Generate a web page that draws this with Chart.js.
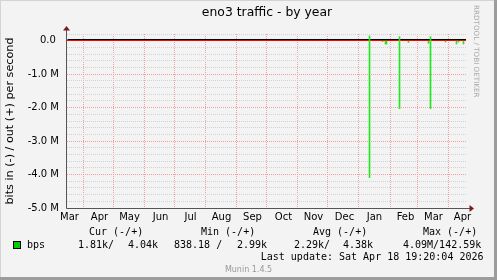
<!DOCTYPE html>
<html>
<head>
<meta charset="utf-8">
<title>eno3 traffic - by year</title>
<script src="https://cdn.jsdelivr.net/npm/chart.js@4/dist/chart.umd.min.js"></script>
<style>
  html, body { margin: 0; padding: 0; background: #f3f3f3; }
  #trafficChart { display: block; }
</style>
</head>
<body>
<canvas id="trafficChart" width="497" height="280"></canvas>
<script>
// x values are days counted from the left edge of the graph (mid March 2025)
const monthLabels = ["Mar", "Apr", "May", "Jun", "Jul", "Aug", "Sep", "Oct", "Nov", "Dec", "Jan", "Feb", "Mar", "Apr"];
const monthLabelDays = [2, 32, 62, 93, 123, 154, 185, 216, 246, 277, 307, 338, 366, 395];
const monthStartDays = [16, 46, 77, 107, 138, 169, 199, 230, 260, 291, 323, 350, 381];

// spikes, bits per second (in is drawn negative, out positive)
const spikeDays = [302, 315, 318, 319, 332, 341, 361, 363, 378, 389, 391, 396];
const bitsIn = [-4090000, -30000, -100000, -100000, -2030000, -50000, -80000, -2030000, -40000, -100000, -40000, -100000];
const bitsOut = [142590, 0, 0, 0, 120000, 0, 0, 120000, 0, 0, 0, 0];

// the thin black line sitting just above zero
const outLineDays = [0, 399];
const outLine = [36000, 36000];

const legendHead = ["Cur (-/+)", "Min (-/+)", "Avg (-/+)", "Max (-/+)"];
const legendRow = ["1.81k/", "4.04k", "838.18 /", "2.99k", "2.29k/", "4.38k", "4.09M/142.59k"];
const lastUpdate = "Last update: Sat Apr 18 19:20:04 2026";

const ctx = document.getElementById("trafficChart").getContext("2d");

const mono = "'DejaVu Sans Mono', monospace";
const sans = "'DejaVu Sans', sans-serif";

const rrdDecor = {
  id: "rrdDecor",
  beforeDraw(chart) {
    const c = chart.ctx;
    c.save();
    c.fillStyle = "#f3f3f3";
    c.fillRect(0, 0, chart.width, chart.height);
    c.restore();
  },
  afterDraw(chart) {
    const c = chart.ctx;
    const a = chart.chartArea;
    const w = chart.width;
    const h = chart.height;
    c.save();

    // frame
    c.fillStyle = "#d4d4d4";
    c.fillRect(0, 0, w, 1);
    c.fillRect(0, 0, 1, h);
    c.fillStyle = "#9c9c9c";
    c.fillRect(w - 3, 0, 3, h);
    c.fillRect(0, h - 3, w, 3);

    // axes with arrows
    c.strokeStyle = "#555";
    c.lineWidth = 1;
    c.beginPath();
    c.moveTo(a.left - 0.5, a.bottom + 0.5);
    c.lineTo(a.left - 0.5, a.top - 4);
    c.moveTo(a.left - 0.5, a.bottom + 0.5);
    c.lineTo(a.right + 4, a.bottom + 0.5);
    c.stroke();
    c.fillStyle = "#7f1a1a";
    c.beginPath();
    c.moveTo(a.left - 0.5, a.top - 8);
    c.lineTo(a.left - 4, a.top - 3.5);
    c.lineTo(a.left + 3, a.top - 3.5);
    c.fill();
    c.beginPath();
    c.moveTo(a.right + 8, a.bottom + 0.5);
    c.lineTo(a.right + 3.5, a.bottom - 3);
    c.lineTo(a.right + 3.5, a.bottom + 4);
    c.fill();

    // title
    c.fillStyle = "#000";
    c.textBaseline = "middle";
    c.textAlign = "center";
    c.font = "12.4px " + sans;
    c.fillText("eno3 traffic - by year", 267, 13);

    // watermark
    c.save();
    c.translate(476, 5);
    c.rotate(Math.PI / 2);
    c.textAlign = "left";
    c.fillStyle = "#aaa";
    c.font = "7.2px " + sans;
    c.fillText("RRDTOOL / TOBI OETIKER", 0, 0);
    c.restore();

    // legend
    c.font = "10px " + mono;
    c.textAlign = "left";
    c.fillStyle = "#000";
    const headX = [89, 201, 313, 423];
    legendHead.forEach((t, i) => c.fillText(t, headX[i], 232.5));
    c.fillStyle = "#00cc00";
    c.fillRect(13.5, 241.5, 7, 7);
    c.strokeStyle = "#000";
    c.strokeRect(13.5, 241.5, 7, 7);
    c.fillStyle = "#000";
    c.fillText("bps", 27, 245);
    const rowX = [78, 128, 174, 237, 294, 343, 403];
    legendRow.forEach((t, i) => c.fillText(t, rowX[i], 245));
    c.textAlign = "right";
    c.fillText(lastUpdate, 483.5, 257);

    c.textAlign = "center";
    c.fillStyle = "#999";
    c.font = "8px " + sans;
    c.fillText("Munin 1.4.5", 248.5, 269.5);
    c.restore();
  },
};

let chart;

function isMajor(v) {
  return Math.abs(v % 1000000) < 1;
}

function createChart() {
  chart = new Chart(ctx, {
    data: {
      datasets: [
        {
          type: "bar",
          label: "bps",
          data: spikeDays.map((d, i) => ({ x: d, y: [bitsIn[i], bitsOut[i]] })),
          backgroundColor: "#22e622",
          borderWidth: 0,
          barThickness: 1,
          xAxisID: "x",
          yAxisID: "y",
        },
        {
          type: "line",
          label: "out",
          data: outLineDays.map((d, i) => ({ x: d, y: outLine[i] })),
          borderColor: "#000",
          borderWidth: 1,
          pointRadius: 0,
          tension: 0,
          xAxisID: "x",
          yAxisID: "y",
        },
      ],
    },
    options: {
      responsive: false,
      animation: false,
      layout: {
        padding: {
          left: 0,
          right: 31,
          top: 34,
          bottom: 52,
        },
      },
      plugins: {
        legend: { display: false },
        tooltip: { enabled: false },
      },
      scales: {
        x: {
          type: "linear",
          position: "bottom",
          offset: false,
          min: -0.5,
          max: 398.5,
          afterBuildTicks: (s) => {
            s.ticks = monthLabelDays.map((v) => ({ value: v }));
          },
          afterFit: (s) => {
            s.height = 20;
          },
          grid: { display: false, drawTicks: false, offset: false },
          border: { display: false },
          ticks: {
            autoSkip: false,
            maxRotation: 0,
            padding: 3,
            color: "#000",
            font: { family: sans, size: 10 },
            callback: (value, index) => monthLabels[index],
          },
        },
        months: {
          type: "linear",
          position: "bottom",
          offset: false,
          min: -0.5,
          max: 398.5,
          afterBuildTicks: (s) => {
            s.ticks = monthStartDays.map((v) => ({ value: v }));
          },
          afterFit: (s) => {
            s.height = 0;
          },
          ticks: { display: false },
          grid: {
            color: "#f0a0a0",
            lineWidth: 1,
            drawTicks: false,
            offset: false,
          },
          border: { display: false, dash: [1, 1] },
        },
        y: {
          min: -5000000,
          max: 200000,
          afterFit: (s) => {
            s.width = 67;
          },
          title: {
            display: true,
            text: "bits in (-) / out (+) per second",
            color: "#000",
            font: { family: sans, size: 11.2 },
            padding: { top: 3, bottom: 0 },
          },
          ticks: {
            stepSize: 200000,
            autoSkip: false,
            padding: 8,
            color: "#000",
            font: { family: sans, size: 10 },
            callback: (v) => {
              if (!isMajor(v) || v > 0) return "";
              if (v === 0) return "0.0 ";
              return (v / 1000000).toFixed(1) + " M";
            },
          },
          grid: {
            drawTicks: false,
            lineWidth: 1,
            color: (c) =>
              c.tick.value === 0 ? "#ff0000" : isMajor(c.tick.value) ? "#f0a0a0" : "#d2d2d2",
          },
          border: {
            display: false,
            dash: (c) => (c.tick && c.tick.value === 0 ? [] : [1, 1]),
          },
        },
      },
    },
    plugins: [rrdDecor],
  });
}

createChart();
</script>
</body>
</html>
